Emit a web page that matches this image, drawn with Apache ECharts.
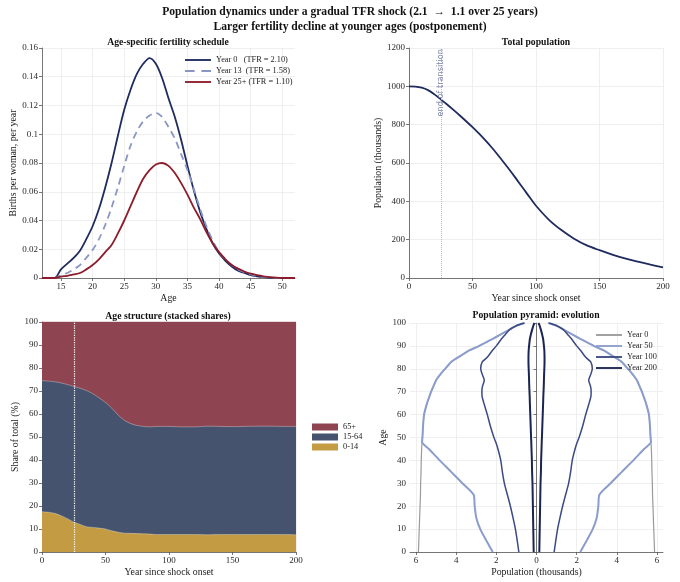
<!DOCTYPE html>
<html>
<head>
<meta charset="utf-8">
<script src="https://cdn.jsdelivr.net/npm/echarts@6/dist/echarts.min.js"></script>
<style>
html, body { margin: 0; padding: 0; background: #fff; }
#main { width: 680px; height: 582px; }
</style>
</head>
<body>
<div id="main"></div>
<script>
// ---- data ----
var fertAges = [12,13,14,15,16,17,18,19,20,21,22,23,24,25,26,27,28,29,30,31,32,33,34,35,36,37,38,39,40,41,42,43,44,45,46,47,48,49,50,51,52];
var fertYear0 = [0,0,0,0.006,0.010,0.014,0.019,0.027,0.036,0.048,0.063,0.080,0.099,0.117,0.131,0.142,0.149,0.153,0.149,0.139,0.125,0.112,0.096,0.078,0.061,0.046,0.034,0.024,0.017,0.012,0.008,0.005,0.0035,0.002,0.0012,0.0006,0.0003,0.0001,0,0,0];
var fertYear13 = [0,0,0,0.002,0.0035,0.006,0.009,0.014,0.0195,0.027,0.037,0.049,0.063,0.078,0.092,0.102,0.109,0.113,0.115,0.112,0.105,0.097,0.086,0.075,0.062,0.048,0.036,0.026,0.018,0.013,0.009,0.006,0.004,0.0025,0.0015,0.0008,0.0004,0.0001,0,0,0];
var fertYear25 = [0,0,0,0.001,0.0015,0.0025,0.0035,0.006,0.009,0.013,0.018,0.023,0.031,0.040,0.050,0.060,0.069,0.075,0.079,0.080,0.078,0.073,0.066,0.058,0.049,0.041,0.032,0.024,0.018,0.013,0.009,0.0065,0.0045,0.003,0.002,0.0012,0.0006,0.0002,0,0,0];
var fertNames = ['Year 0   (TFR = 2.10)', 'Year 13  (TFR = 1.58)', 'Year 25+ (TFR = 1.10)'];

var popYears = [0,5,10,15,20,25,30,35,40,45,50,55,60,65,70,75,80,85,90,95,100,110,120,130,140,150,160,170,180,190,200];
var popTotal = [1000,999,993,980,958,932,905,877,848,818,787,754,719,682,642,600,557,512,467,421,377,305,250,205,170,145,122,102,85,70,55];

var shareYears = [0,5,10,15,20,25,30,35,40,45,50,55,60,65,70,75,80,85,90,100,110,120,130,140,150,160,170,180,190,200];
var share0to14 = [17.5,17.3,16.8,15.8,14.5,13.0,12.0,11.0,10.7,10.4,10.0,9.2,8.6,8.2,8.1,8.0,7.9,7.8,7.6,7.6,7.6,7.6,7.5,7.6,7.6,7.6,7.6,7.6,7.6,7.5];
var share15to64 = [57.0,57.0,57.2,57.7,58.3,59.0,59.2,59.2,58.1,56.6,55.0,53.3,50.9,49.0,47.7,47.0,46.7,46.6,47.0,47.0,46.8,46.8,47.2,47.0,46.9,47.0,47.1,47.1,47.0,47.1];
var share65plus = [25.5,25.7,26.0,26.5,27.2,28.0,28.8,29.8,31.2,33.0,35.0,37.5,40.5,42.8,44.2,45.0,45.4,45.6,45.4,45.4,45.6,45.6,45.3,45.4,45.5,45.4,45.3,45.3,45.4,45.4];
var shareNames = ['65+', '15-64', '0-14'];

var pyrAges = [0,5,10,15,20,25,30,35,40,45,48,50,55,60,65,68,70,72,75,78,80,83,85,88,90,93,95,97,99,100];
var pyrYear0 = [5.88,5.86,5.84,5.82,5.80,5.78,5.77,5.75,5.74,5.72,5.70,5.68,5.65,5.60,5.45,5.33,5.25,5.15,5.00,4.75,4.55,4.25,3.90,3.35,2.85,2.20,1.78,1.37,0.96,0.60];
var pyrYear50 = [2.18,2.50,2.80,3.00,3.08,3.13,3.69,4.25,4.82,5.36,5.70,5.68,5.65,5.60,5.45,5.33,5.25,5.15,5.00,4.75,4.55,4.25,3.90,3.35,2.85,2.20,1.78,1.37,0.96,0.60];
var pyrYear100 = [0.88,0.96,1.05,1.17,1.30,1.45,1.60,1.70,1.78,1.92,2.03,2.12,2.30,2.45,2.62,2.71,2.72,2.70,2.60,2.72,2.78,2.70,2.45,2.20,2.00,1.75,1.55,1.35,0.96,0.60];
var pyrYear200 = [0.14,0.15,0.16,0.17,0.18,0.19,0.20,0.22,0.23,0.25,0.26,0.27,0.29,0.31,0.33,0.34,0.35,0.36,0.37,0.38,0.39,0.40,0.40,0.39,0.37,0.33,0.28,0.22,0.15,0.10];
var pyrNames = ['Year 0', 'Year 50', 'Year 100', 'Year 200'];

var fertTicks = [15,20,25,30,35,40,45,50];
var pyrTicks = [-6,-4,-2,0,2,4,6];

// ---- helpers ----
var SERIF = 'Liberation Serif';
var AXIS_COLOR = '#555';
var GRID_COLOR = '#ebebeb';
var LINE_ICON = 'path://M0,0H28V2H0Z';
var DASH_ICON = 'path://M0,0H10V2H0Z M17,0H27V2H17Z';

function pairs(xs, ys) {
    var out = [];
    for (var i = 0; i < xs.length; i++) out.push([xs[i], ys[i]]);
    return out;
}
function pyramidSide(vals, sign) {
    var out = [];
    for (var i = 0; i < pyrAges.length; i++) out.push([sign * vals[i], pyrAges[i]]);
    return out;
}
// running total of the share layers (bottom layer first) for the area fills
function stackTops(layers) {
    var tops = [], run = shareYears.map(function () { return 0; });
    layers.forEach(function (l) {
        run = run.map(function (v, i) { return v + l[i]; });
        tops.push(run.slice());
    });
    return tops;
}
function valueAxis(gridIndex, extra) {
    var ax = {
        type: 'value',
        gridIndex: gridIndex,
        axisLine: { show: true, lineStyle: { color: AXIS_COLOR, width: 0.8 } },
        axisTick: { show: true, length: 3, lineStyle: { color: AXIS_COLOR, width: 0.8 } },
        axisLabel: { color: '#2a2a2a', fontFamily: SERIF, fontSize: 9, margin: 4,
                     formatter: function (v) { return String(v); } },
        splitLine: { show: true, lineStyle: { color: GRID_COLOR, width: 0.8 } },
        nameLocation: 'middle',
        nameTextStyle: { color: '#1a1a1a', fontFamily: SERIF, fontSize: 9.8 }
    };
    for (var k in extra) {
        if (typeof extra[k] === 'object' && ax[k] && !Array.isArray(extra[k])) {
            for (var j in extra[k]) ax[k][j] = extra[k][j];
        } else {
            ax[k] = extra[k];
        }
    }
    return ax;
}
function subTitle(text, left, top) {
    return {
        text: text, left: left, top: top, textAlign: 'center', padding: 0,
        textStyle: { fontFamily: SERIF, fontSize: 9.7, fontWeight: 'bold', color: '#111' }
    };
}
function lineLegend(names, left, top, dashedIndex) {
    return {
        data: names.map(function (n, i) { return { name: n, icon: i === dashedIndex ? DASH_ICON : LINE_ICON }; }),
        orient: 'vertical', left: left, top: top, padding: 0,
        itemWidth: 26, itemHeight: 2, itemGap: 3,
        textStyle: { fontFamily: SERIF, fontSize: 8.3, color: '#222' }
    };
}

var fertColors = ['#1f2b5e', '#8a96c4', '#8c1c2b'];
var shareColors = { '0-14': '#c29b42', '15-64': '#45536f', '65+': '#8f4551' };
var pyrColors = ['#9a9a9a', '#8b9dcc', '#3b4a82', '#1b2552'];
var pyrWidths = [1.2, 2, 1.5, 2];

var series = [];

// top-left: fertility schedule
[fertYear0, fertYear13, fertYear25].forEach(function (vals, i) {
    series.push({
        name: fertNames[i], type: 'line', xAxisIndex: 0, yAxisIndex: 0,
        data: pairs(fertAges, vals), smooth: 0.3, symbol: 'none',
        color: fertColors[i],
        lineStyle: { color: fertColors[i], width: 1.8, type: i === 1 ? [7, 5] : 'solid' }
    });
});

// top-right: total population
series.push({
    name: 'Total', type: 'line', xAxisIndex: 1, yAxisIndex: 1,
    data: pairs(popYears, popTotal), smooth: 0.3, symbol: 'none',
    color: '#1f2b5e', lineStyle: { color: '#1f2b5e', width: 1.8 },
    markLine: {
        silent: true, symbol: 'none',
        lineStyle: { color: '#b8b8c4', type: 'dotted', width: 1 },
        label: {
            show: true, formatter: 'end of transition', position: 'insideEnd',
            distance: 1, color: '#7f86a8', fontFamily: 'DejaVu Sans', fontSize: 8.2
        },
        data: [{ xAxis: 25 }]
    }
});

// bottom-left: stacked shares, drawn top layer first so lower fills cover it
var tops = stackTops([share0to14, share15to64, share65plus]);
[['65+', tops[2]], ['15-64', tops[1]], ['0-14', tops[0]]].forEach(function (s, i) {
    var ser = {
        name: s[0], type: 'line', xAxisIndex: 2, yAxisIndex: 2,
        data: pairs(shareYears, s[1]), smooth: 0.3, symbol: 'none',
        color: shareColors[s[0]],
        lineStyle: { color: i === 0 ? shareColors[s[0]] : 'rgba(255,255,255,0.4)', width: 0.8 },
        areaStyle: { color: shareColors[s[0]], opacity: 1 }
    };
    if (i === 2) {
        ser.markLine = {
            silent: true, symbol: 'none', label: { show: false },
            lineStyle: { color: '#ffffff', type: 'dotted', width: 1.2 },
            data: [{ xAxis: 25 }]
        };
    }
    series.push(ser);
});

// bottom-right: pyramid, one line each side per year
[pyrYear0, pyrYear50, pyrYear100, pyrYear200].forEach(function (vals, i) {
    [-1, 1].forEach(function (sign) {
        series.push({
            name: pyrNames[i], type: 'line', xAxisIndex: 3, yAxisIndex: 3,
            data: pyramidSide(vals, sign), smooth: 0.2, symbol: 'none',
            color: pyrColors[i],
            lineStyle: { color: pyrColors[i], width: pyrWidths[i] }
        });
    });
});

var option = {
    backgroundColor: '#ffffff',
    animation: false,
    title: [
        {
            text: 'Population dynamics under a gradual TFR shock (2.1  \u2192  1.1 over 25 years)\nLarger fertility decline at younger ages (postponement)',
            left: 350, top: 4, textAlign: 'center', padding: 0,
            textStyle: { fontFamily: SERIF, fontSize: 11.6, fontWeight: 'bold', color: '#111', lineHeight: 15 }
        },
        subTitle('Age-specific fertility schedule', 168, 37),
        subTitle('Total population', 536, 37),
        subTitle('Age structure (stacked shares)', 168, 311),
        subTitle('Population pyramid: evolution', 536, 310)
    ],
    legend: [
        lineLegend(fertNames, 185, 56, 1),
        {
            data: shareNames, orient: 'vertical', left: 312, top: 423, padding: 0,
            icon: 'rect', itemWidth: 26, itemHeight: 7, itemGap: 2,
            itemStyle: { borderWidth: 0 },
            textStyle: { fontFamily: SERIF, fontSize: 8.3, color: '#222' }
        },
        lineLegend(pyrNames, 596, 331, -1)
    ],
    grid: [
        { left: 42, top: 48, width: 253, height: 230 },
        { left: 409, top: 48, width: 254, height: 230 },
        { left: 42, top: 322, width: 254, height: 230 },
        { left: 410, top: 323, width: 253, height: 229 }
    ],
    xAxis: [
        valueAxis(0, {
            min: 12, max: 52, name: 'Age', nameGap: 15,
            axisTick: { customValues: fertTicks },
            axisLabel: { customValues: fertTicks }
        }),
        valueAxis(1, { min: 0, max: 200, interval: 50, name: 'Year since shock onset', nameGap: 15 }),
        valueAxis(2, { min: 0, max: 200, interval: 50, name: 'Year since shock onset', nameGap: 15 }),
        valueAxis(3, {
            min: -6.3, max: 6.3, name: 'Population (thousands)', nameGap: 15,
            axisTick: { customValues: pyrTicks },
            axisLabel: { customValues: pyrTicks, formatter: function (v) { return String(Math.abs(v)); } }
        })
    ],
    yAxis: [
        valueAxis(0, { min: 0, max: 0.16, interval: 0.02, name: 'Births per woman, per year', nameGap: 22 }),
        valueAxis(1, { min: 0, max: 1200, interval: 200, name: 'Population (thousands)', nameGap: 25 }),
        valueAxis(2, { min: 0, max: 100, interval: 10, name: 'Share of total (%)', nameGap: 19 }),
        valueAxis(3, { min: 0, max: 100, interval: 10, name: 'Age', nameGap: 21 })
    ],
    series: series
};

var chart = echarts.init(document.getElementById('main'), null, { renderer: 'canvas' });
chart.setOption(option);
</script>
</body>
</html>
